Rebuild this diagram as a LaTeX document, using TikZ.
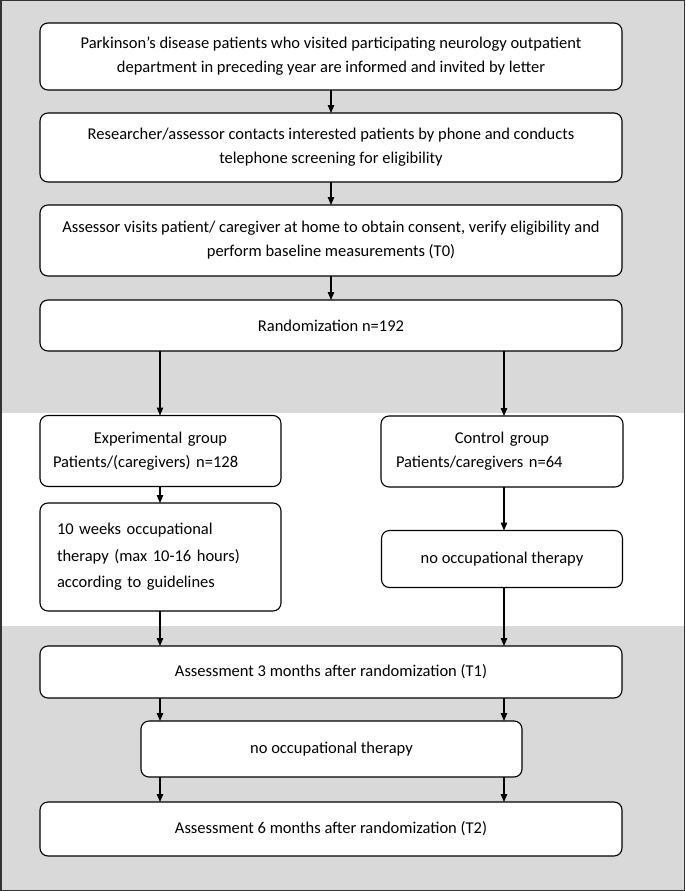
\documentclass[tikz,border=0pt]{standalone}
\usepackage{fontspec}
\setmainfont{Carlito}
\usetikzlibrary{arrows.meta}
\definecolor{bggray}{HTML}{D9D9D9}
\definecolor{framegray}{HTML}{333333}
\tikzset{
  box/.style={draw=black, fill=white, rounded corners=8pt, line width=1.1pt,
    inner sep=0pt, outer sep=0pt, align=center,
    font=\fontsize{16.5}{24}\selectfont},
  arr/.style={line width=1.1pt, -{Triangle[length=8pt,width=6.5pt]}}
}
\begin{document}
\begin{tikzpicture}[x=1pt,y=-1pt]
\useasboundingbox (0,0) rectangle (685,891);
\fill[bggray] (0,0) rectangle (685,891);
\fill[white] (1.5,413) rectangle (683.5,626);
\draw[framegray, line width=1.5pt] (0.75,0.75) rectangle (684.25,890.25);

\node[box, minimum width=582pt, minimum height=67pt] (b1) at (331,56.5)
  {Parkinson’s disease patients who visited participating neurology outpatient\\department in preceding year are informed and invited by letter};
\node[box, minimum width=582pt, minimum height=69pt] (b2) at (331,147.5)
  {Researcher/assessor contacts interested patients by phone and conducts\\telephone screening for eligibility};
\node[box, minimum width=582pt, minimum height=71pt] (b3) at (331,240.5)
  {Assessor visits patient/ caregiver at home to obtain consent, verify eligibility and\\perform baseline measurements (T0)};
\node[box, minimum width=582pt, minimum height=51pt] (b4) at (331,325.5)
  {Randomization n=192};

\node[box, minimum width=241pt, minimum height=71pt, text width=215pt, align=left] (exp) at (160.5,451)
  {\centering Experimental group\par\raggedright Patients/(caregivers) n=128};
\node[box, minimum width=241pt, minimum height=108pt, text width=207pt, align=left,
  font=\fontsize{16.5}{26.5}\selectfont] (ther) at (160.5,557)
  {\raggedright 10 weeks occupational\\therapy (max 10-16 hours)\\according to guidelines};

\node[box, minimum width=242pt, minimum height=71pt, text width=212pt, align=left] (ctl) at (502,451.5)
  {\centering Control group\par\raggedright Patients/caregivers n=64};
\node[box, minimum width=241pt, minimum height=57pt] (noot) at (502,559)
  {no occupational therapy};

\node[box, minimum width=582pt, minimum height=52pt] (t1) at (331,672)
  {Assessment 3 months after randomization (T1)};
\node[box, minimum width=381pt, minimum height=56pt] (noot2) at (331.5,749)
  {no occupational therapy};
\node[box, minimum width=582pt, minimum height=54pt] (t2) at (331,829)
  {Assessment 6 months after randomization (T2)};

\coordinate (xl) at (160,0);
\coordinate (xr) at (504,0);

\draw[arr] (b1) -- (b2);
\draw[arr] (b2) -- (b3);
\draw[arr] (b3) -- (b4);
\draw[arr] (xl |- b4.south) -- (xl |- exp.north);
\draw[arr] (xr |- b4.south) -- (xr |- ctl.north);
\draw[arr] (xl |- exp.south) -- (xl |- ther.north);
\draw[arr] (xr |- ctl.south) -- (xr |- noot.north);
\draw[arr] (xl |- ther.south) -- (xl |- t1.north);
\draw[arr] (xr |- noot.south) -- (xr |- t1.north);
\draw[arr] (xl |- t1.south) -- (xl |- noot2.north);
\draw[arr] (xr |- t1.south) -- (xr |- noot2.north);
\draw[arr] (xl |- noot2.south) -- (xl |- t2.north);
\draw[arr] (xr |- noot2.south) -- (xr |- t2.north);
\end{tikzpicture}
\end{document}
